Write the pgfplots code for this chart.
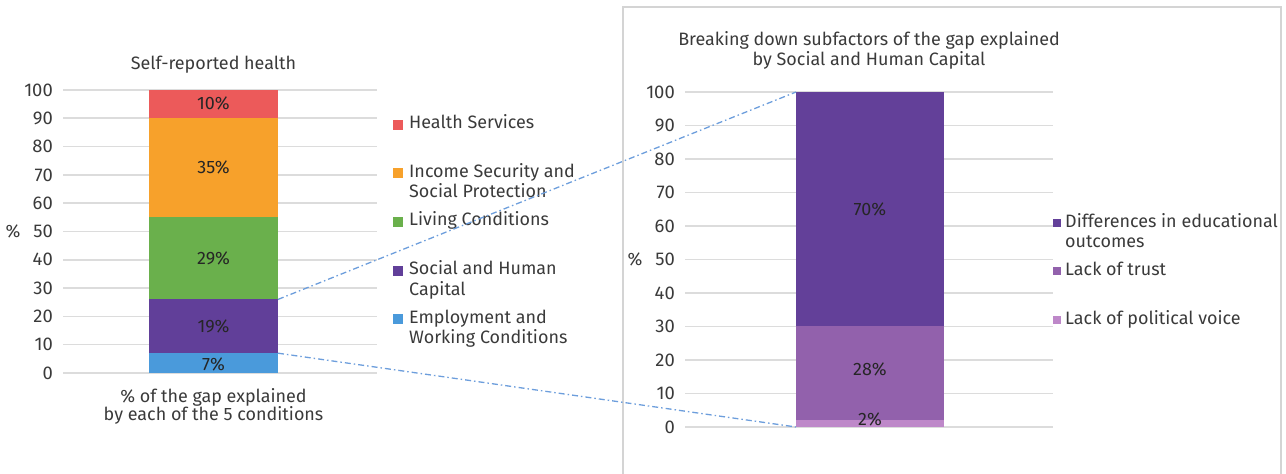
\documentclass[border=0pt]{standalone}
\usepackage{pgfplots}
\pgfplotsset{compat=1.18}
\usepackage{fontspec}
\setmainfont{Fira Sans}
\definecolor{txt}{HTML}{3A3A3A}
\definecolor{gridc}{HTML}{DCDCDC}
\definecolor{framec}{HTML}{D4D4D4}
\definecolor{cred}{HTML}{EC5A5A}
\definecolor{corange}{HTML}{F7A12B}
\definecolor{cgreen}{HTML}{6AB04C}
\definecolor{cpurple}{HTML}{613F99}
\definecolor{cblue}{HTML}{4A9ADB}
\definecolor{pdark}{HTML}{634099}
\definecolor{pmid}{HTML}{9261AC}
\definecolor{plight}{HTML}{BE88C9}
\definecolor{conn}{HTML}{6D9EDC}
\newcommand{\LE}[2]{\begin{tabular}[c]{@{}l@{}}#1\\\strut#2\end{tabular}}
\pgfplotsset{
  common/.style={
    scale only axis, ymin=0, ymax=100,
    ybar stacked, xtick=\empty, ytick={0,10,...,100},
    ymajorgrids, grid style={draw=gridc, line width=1.6bp},
    axis line style={draw=none}, major tick length=0pt, tick style={draw=none},
    yticklabel style={text=txt, inner sep=0pt, xshift=-10bp, font=\fontsize{18.5}{20}\selectfont},
    /pgf/number format/assume math mode=true,
    every axis y label/.style={at={(rel axis cs:0,0.5)}, anchor=center, xshift=-50bp, text=txt},
    clip=false, reverse legend,
    legend style={draw=none, fill=none, inner sep=0pt, column sep=6bp, row sep=7.8bp,
      nodes={inner sep=0pt, text=txt, anchor=west, text depth=, text height=}, anchor=north west},
    font=\fontsize{18}{20.5}\selectfont,
  },
  sqA/.style={legend image code/.code={\path[fill=none,draw=none] (0bp,-17bp) rectangle (10bp,17bp); \path[##1] (0bp,5bp) rectangle (10bp,15bp);}},
  sqB/.style={legend image code/.code={\path[fill=none,draw=none] (0bp,-16bp) rectangle (8bp,16bp); \path[##1] (0bp,6.5bp) rectangle (8bp,14.5bp);}},
}
\begin{document}
\fontsize{18}{20.5}\selectfont
\begin{tikzpicture}
\useasboundingbox (0bp,0bp) rectangle (1286bp,474bp);
\draw[framec, line width=1.4bp] (623bp,0bp) -- (623bp,467bp) -- (1281bp,467bp) -- (1281bp,0bp);
\begin{axis}[common, sqA,
  at={(63bp,101bp)}, anchor=south west,
  width=314bp, height=283bp, xmin=0, xmax=314, bar width=129bp,
  title={Self-reported health},
  title style={at={(axis cs:150.5,100)}, anchor=base, yshift=15bp, text=txt, inner sep=0pt},
  xlabel={\% of the gap explained\\by each of the 5 conditions},
  xlabel style={at={(axis cs:150.5,0)}, anchor=north, yshift=-15bp, align=center, text=txt, inner sep=0pt, font=\fontsize{18}{18.5}\selectfont},
  ylabel={\%},
  legend style={at={(axis cs:330,91.45)}},
]
\addplot[fill=cblue, draw=none, nodes near coords={7\%}, every node near coord/.append style={anchor=center, yshift=-1bp, text=black!85}] coordinates {(150.5,7)};
\addlegendentry{\LE{Employment and}{Working Conditions}}
\addplot[fill=cpurple, draw=none, nodes near coords={19\%}, every node near coord/.append style={anchor=center, yshift=-0.5bp, text=black!85}] coordinates {(150.5,19)};
\addlegendentry{\LE{Social and Human}{Capital}}
\addplot[fill=cgreen, draw=none, nodes near coords={29\%}, every node near coord/.append style={anchor=center, yshift=-0.5bp, text=black!85}] coordinates {(150.5,29)};
\addlegendentry{\LE{Living Conditions}{}}
\addplot[fill=corange, draw=none, nodes near coords={35\%}, every node near coord/.append style={anchor=center, yshift=0.5bp, text=black!85}] coordinates {(150.5,35)};
\addlegendentry{\LE{Income Security and}{Social Protection}}
\addplot[fill=cred, draw=none, nodes near coords={10\%}, every node near coord/.append style={anchor=center, yshift=1bp, text=black!85}] coordinates {(150.5,10)};
\addlegendentry{\LE{Health Services}{}}
\coordinate (A1) at (axis cs:215,26);
\coordinate (A2) at (axis cs:215,7);
\end{axis}
\begin{axis}[common, sqB,
  at={(685bp,47bp)}, anchor=south west,
  width=368bp, height=335bp, xmin=0, xmax=368, bar width=148bp,
  title={Breaking down subfactors of the gap explained\\by Social and Human Capital},
  title style={at={(axis cs:184,100)}, anchor=south, yshift=16.5bp, align=center, text=txt, inner sep=0pt},
  ylabel={\%},
  legend style={at={(axis cs:368,64)}, column sep=4bp},
]
\addplot[fill=plight, draw=none, nodes near coords={2\%}, every node near coord/.append style={anchor=center, yshift=4.5bp, text=black!85}] coordinates {(185,2)};
\addlegendentry{\LE{Lack of political voice}{}}
\addplot[fill=pmid, draw=none, nodes near coords={28\%}, every node near coord/.append style={anchor=center, yshift=4bp, text=black!85}] coordinates {(185,28)};
\addlegendentry{\LE{Lack of trust}{}}
\addplot[fill=pdark, draw=none, nodes near coords={70\%}, every node near coord/.append style={anchor=center, yshift=0bp, text=black!85}] coordinates {(185,70)};
\addlegendentry{\LE{Differences in educational}{outcomes}}
\coordinate (B1) at (axis cs:111,100);
\coordinate (B2) at (axis cs:111,0);
\end{axis}
\draw[conn, line width=1.3bp, dash pattern=on 6bp off 3bp on 1.5bp off 3bp] (A1) -- (B1);
\draw[conn, line width=1.3bp, dash pattern=on 6bp off 3bp on 1.5bp off 3bp] (A2) -- (B2);
\end{tikzpicture}
\end{document}
